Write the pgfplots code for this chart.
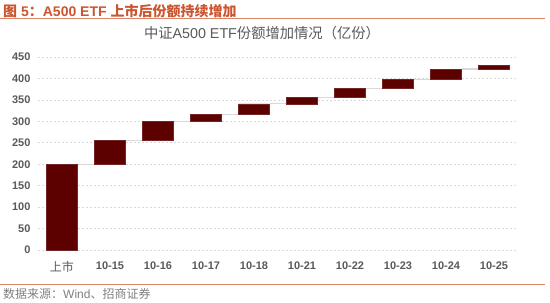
\documentclass[border=0pt]{standalone}
\usepackage{pgfplots}
\usepackage{pgfplotstable}
\pgfplotsset{compat=1.18}
\usepackage{fontspec}
\setmainfont{Liberation Sans}
\newfontfamily\cjk{Noto Sans CJK SC}
\definecolor{barred}{HTML}{5C0000}
\definecolor{titlered}{HTML}{CC5530}
\definecolor{rulec}{HTML}{D8876B}
\definecolor{ticktxt}{HTML}{595959}
\definecolor{gridc}{HTML}{D9D9D9}
\definecolor{connc}{HTML}{D9D9D9}

\pgfplotstableread{
x base inc
0 0 200
1 200 55
2 255 45
3 300 16
4 316 25
5 341 15
6 356 21
7 377 21
8 398 24
9 422 9
}\wf

\pgfplotstableread{
x y
0.323 200
0.677 200
nan nan
1.323 255
1.677 255
nan nan
2.323 300
2.677 300
nan nan
3.323 316
3.677 316
nan nan
4.323 341
4.677 341
nan nan
5.323 356
5.677 356
nan nan
6.323 377
6.677 377
nan nan
7.323 398
7.677 398
nan nan
8.323 422
8.677 422
}\conn

\begin{document}
\begin{tikzpicture}
\useasboundingbox (0pt,0pt) rectangle (550pt,303pt);
% header
\node[anchor=west, text=titlered, font=\bfseries\fontsize{14}{14}\selectfont, inner sep=0pt] at (3pt,292pt) {{\cjk 图} 5{\cjk ：}A500 ETF {\cjk 上市后份额持续增加}};
\draw[rulec, line width=1pt] (0pt,284pt) -- (545pt,284pt);
\node[text=ticktxt, font=\fontsize{14.3}{14.3}\selectfont, inner sep=0pt] at (262pt,270pt) {{\cjk 中证}A500 ETF{\cjk 份额增加情况（亿份）}};
% footer
\draw[rulec, line width=1pt] (0pt,18pt) -- (545pt,18pt);
\node[anchor=west, text=gray, font=\fontsize{12}{12}\selectfont, inner sep=0pt] at (3pt,9pt) {{\cjk 数据来源：}Wind{\cjk 、招商证券}};

\begin{axis}[
  at={(38pt,53pt)}, anchor=south west,
  scale only axis, width=480pt, height=193pt,
  xmin=-0.5, xmax=9.5, ymin=0, ymax=450,
  axis line style={draw=none},
  ytick={0,50,...,450},
  xtick={0,...,9},
  xticklabels={{\mdseries\cjk\fontsize{12}{12}\selectfont 上市},10-15,10-16,10-17,10-18,10-21,10-22,10-23,10-24,10-25},
  major tick length=0pt,
  ymajorgrids,
  grid style={gridc, dash pattern=on 2pt off 2pt, line width=0.7pt},
  tick label style={text=ticktxt, font=\bfseries\fontsize{11}{11}\selectfont},
  /pgf/number format/assume math mode=true,
  yticklabel style={xshift=-4pt},
  xticklabel style={yshift=-8pt},
  clip=false,
]
\addplot[connc, line width=1.3pt, unbounded coords=jump] table[x=x,y=y] {\conn};
\end{axis}

\begin{axis}[
  at={(38pt,53pt)}, anchor=south west,
  scale only axis, width=480pt, height=193pt,
  xmin=-0.5, xmax=9.5, ymin=0, ymax=450,
  hide axis,
  ybar stacked, bar width=31pt,
  clip=false,
]
\addplot[draw=none, fill=none] table[x=x,y=base] {\wf};
\addplot[fill=barred, draw=barred!85!white, line width=0.4pt] table[x=x,y=inc] {\wf};
\end{axis}
\end{tikzpicture}
\end{document}
